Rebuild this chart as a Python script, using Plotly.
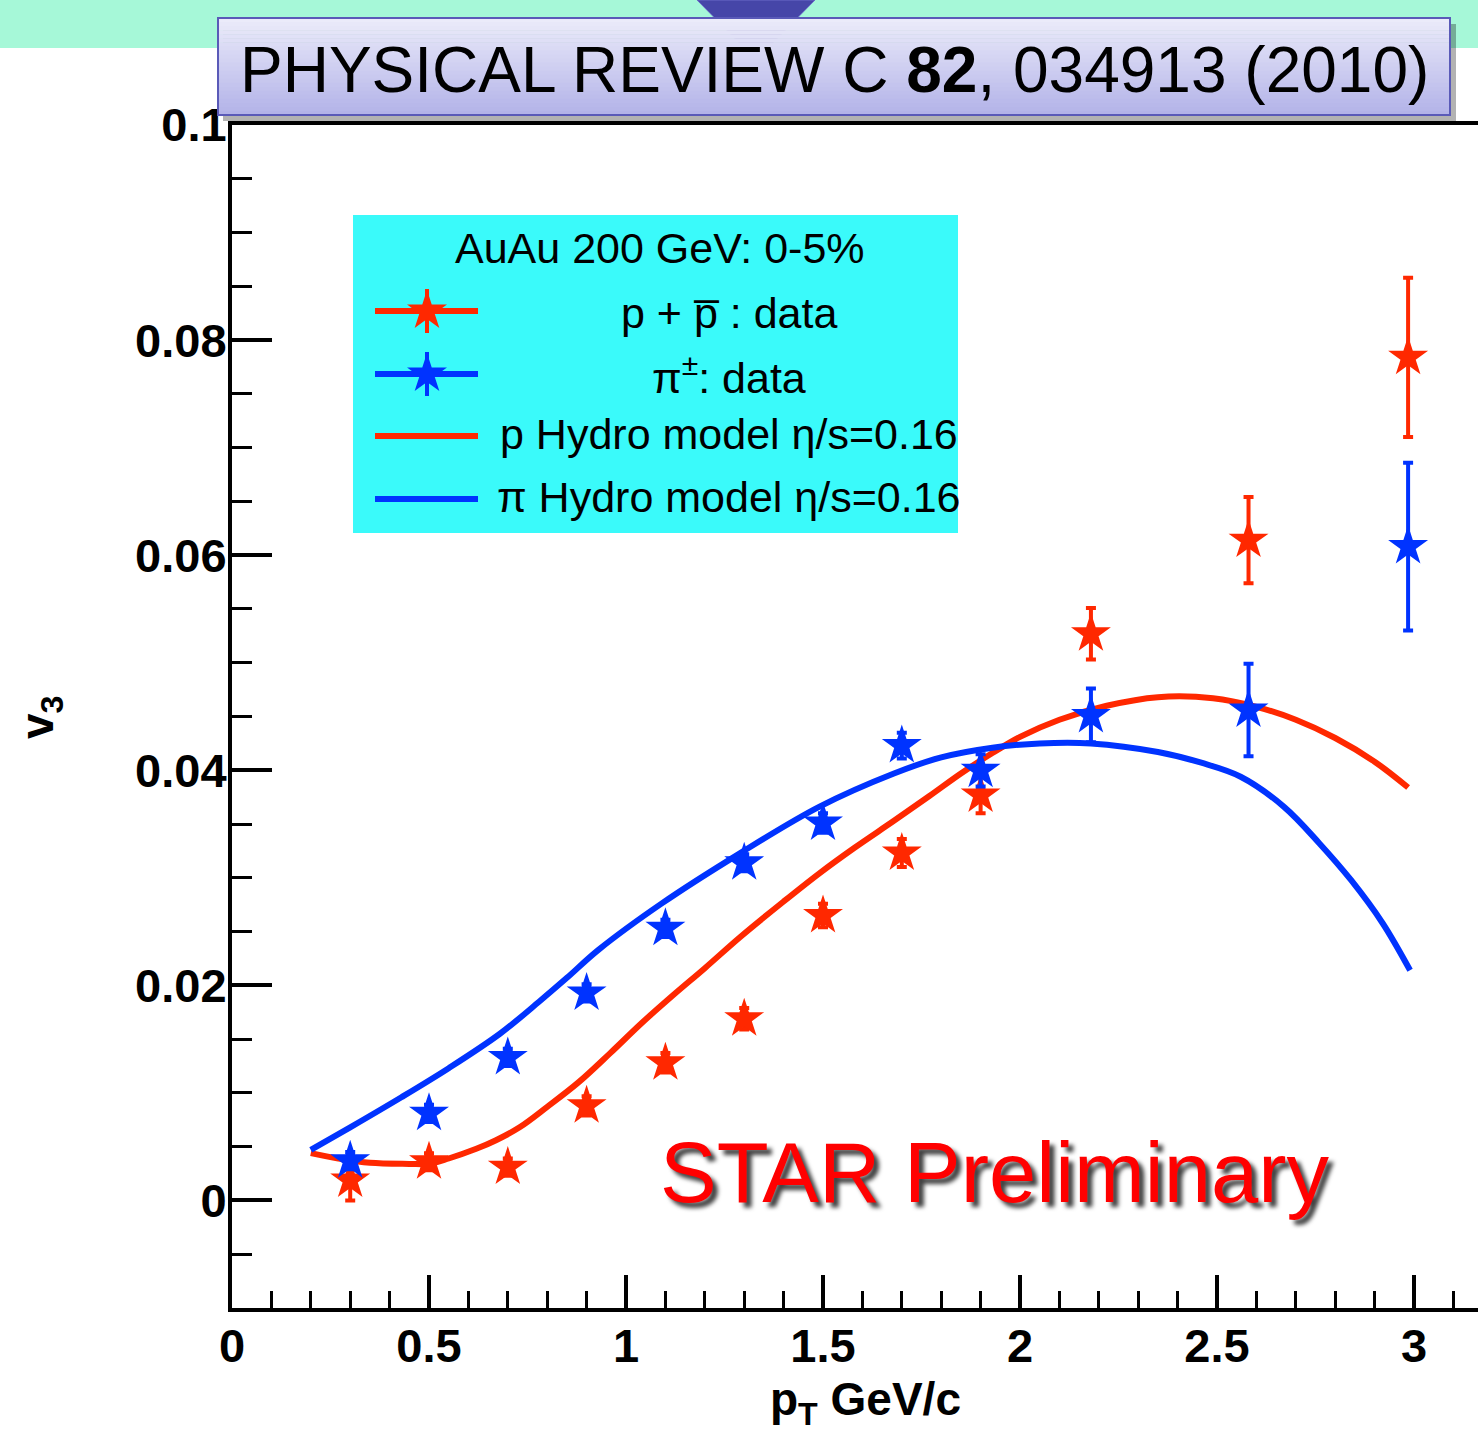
import plotly.graph_objects as go

# ---------------- data ----------------
pt_data = [0.3, 0.5, 0.7, 0.9, 1.1, 1.3, 1.5, 1.7, 1.9, 2.18, 2.58, 2.985]
v3_proton = [0.0019, 0.0036, 0.0031, 0.0088, 0.0128, 0.0169, 0.0265, 0.0323, 0.0377, 0.0527, 0.0614, 0.0784]
err_proton = [0.0019, 0.0008, 0.0008, 0.0009, 0.0009, 0.0010, 0.0011, 0.0013, 0.0017, 0.0024, 0.0040, 0.0074]
v3_pion = [0.0037, 0.0081, 0.0133, 0.0193, 0.0253, 0.0314, 0.0351, 0.0423, 0.0400, 0.0451, 0.0456, 0.0608]
err_pion = [0.0008, 0.0008, 0.0008, 0.0008, 0.0008, 0.0008, 0.0009, 0.0012, 0.0015, 0.0025, 0.0043, 0.0078]

pt_hydro_p = [0.20, 0.27, 0.35, 0.45, 0.50, 0.55, 0.62, 0.67, 0.73, 0.80, 0.88, 0.96, 1.04, 1.12,
              1.20, 1.29, 1.40, 1.49, 1.58, 1.68, 1.77, 1.85, 1.93, 2.00, 2.10, 2.22, 2.35, 2.49,
              2.60, 2.70, 2.80, 2.90, 2.985]
v3_hydro_p = [0.0044, 0.0039, 0.0035, 0.0034, 0.0034, 0.0039, 0.0048, 0.0056, 0.0068, 0.0087, 0.0110,
              0.0137, 0.0165, 0.0191, 0.0216, 0.0245, 0.0278, 0.0304, 0.0328, 0.0353, 0.0376, 0.0397,
              0.0416, 0.0431, 0.0447, 0.0460, 0.0468, 0.0467, 0.0459, 0.0447, 0.0430, 0.0408, 0.0384]

pt_hydro_pi = [0.20, 0.30, 0.43, 0.55, 0.68, 0.78, 0.85, 0.93, 1.09, 1.29, 1.49, 1.68, 1.80, 1.93,
               2.05, 2.18, 2.35, 2.46, 2.56, 2.67, 2.76, 2.84, 2.92, 2.99]
v3_hydro_pi = [0.0047, 0.0068, 0.0096, 0.0123, 0.0155, 0.0185, 0.0207, 0.0233, 0.0276, 0.0323, 0.0366,
               0.0397, 0.0412, 0.0421, 0.0425, 0.0425, 0.0417, 0.0407, 0.0394, 0.0366, 0.0332, 0.0298,
               0.0258, 0.0214]

x_range = [0, 3.1624]
y_range = [-0.01, 0.1]

legend_title = "AuAu 200 GeV: 0-5%"
legend_labels = ["p + p\u0305 : data", "\u03c0<sup>\u00b1</sup>: data",
                 "p Hydro model \u03b7/s=0.16", "\u03c0 Hydro model \u03b7/s=0.16"]

# ---------------- styling ----------------
RED = "#ff2800"
BLUE = "#0033ff"
SANS = "Liberation Sans, Arial, sans-serif"
STAR_SIZE = 30

W, H = 1478, 1442
L, T, B = 232, 125, 134
PW, PH = W - L, H - T - B


def px(x):
    return (x - L) / PW


def py(y):
    return (H - B - y) / PH


fig = go.Figure()

fig.add_trace(go.Scatter(x=pt_hydro_p, y=v3_hydro_p, mode="lines", line=dict(color=RED, width=6, shape="spline"),
                         showlegend=False))
fig.add_trace(go.Scatter(x=pt_hydro_pi, y=v3_hydro_pi, mode="lines", line=dict(color=BLUE, width=6, shape="spline"),
                         showlegend=False))
fig.add_trace(go.Scatter(x=pt_data, y=v3_proton, mode="markers",
                         marker=dict(symbol="star", size=STAR_SIZE, color=RED, line=dict(width=0)),
                         error_y=dict(type="data", array=err_proton, color=RED, thickness=4, width=5),
                         showlegend=False))
fig.add_trace(go.Scatter(x=pt_data, y=v3_pion, mode="markers",
                         marker=dict(symbol="star", size=STAR_SIZE, color=BLUE, line=dict(width=0)),
                         error_y=dict(type="data", array=err_pion, color=BLUE, thickness=4, width=5),
                         showlegend=False))

# legend sample markers (pixel-coordinate overlay axes)
for col, yy in [(RED, 311), (BLUE, 374)]:
    fig.add_trace(go.Scatter(x=[427], y=[yy], xaxis="x2", yaxis="y2", mode="markers",
                             marker=dict(symbol="star", size=STAR_SIZE, color=col, line=dict(width=0)),
                             error_y=dict(type="data", array=[22], color=col, thickness=4, width=0),
                             showlegend=False, hoverinfo="skip"))

shapes = []
# top mint band
shapes.append(dict(type="rect", xref="paper", yref="paper", x0=px(0), x1=px(W), y0=py(48), y1=py(0),
                   fillcolor="#a6f8d8", line=dict(width=0), layer="above"))
# blue arrow
shapes.append(dict(type="path", xref="paper", yref="paper",
                   path=f"M {px(697)},{py(0)} L {px(815)},{py(0)} L {px(756)},{py(60)} Z",
                   fillcolor="#4646a8", line=dict(color="#6a6ac8", width=1), layer="above"))
# title box shadow
shapes.append(dict(type="rect", xref="paper", yref="paper", x0=px(223), x1=px(1456), y0=py(121), y1=py(24),
                   fillcolor="rgba(0,0,0,0.30)", line=dict(width=0), layer="above"))
# title box gradient
n = 24
top_c = (236, 236, 250)
bot_c = (178, 178, 232)
y_top, y_bot = 18, 115
for i in range(n):
    f = (i + 0.5) / n
    c = tuple(int(round(top_c[k] + (bot_c[k] - top_c[k]) * f)) for k in range(3))
    ya = y_top + (y_bot - y_top) * i / n
    yb = y_top + (y_bot - y_top) * (i + 1) / n + 0.6
    shapes.append(dict(type="rect", xref="paper", yref="paper", x0=px(218), x1=px(1450), y0=py(yb), y1=py(ya),
                       fillcolor=f"rgb{c}", line=dict(width=0), layer="above"))
shapes.append(dict(type="rect", xref="paper", yref="paper", x0=px(218), x1=px(1450), y0=py(115), y1=py(18),
                   fillcolor="rgba(0,0,0,0)", line=dict(color="#5a5ab8", width=2), layer="above"))
# legend box
shapes.append(dict(type="rect", xref="paper", yref="paper", x0=px(353), x1=px(958), y0=py(533), y1=py(215),
                   fillcolor="#3afafa", line=dict(width=0), layer="below"))
# legend line samples
for col, yy in [(RED, 311), (BLUE, 374), (RED, 436), (BLUE, 499)]:
    shapes.append(dict(type="line", xref="paper", yref="paper", x0=px(375), x1=px(478), y0=py(yy), y1=py(yy),
                       line=dict(color=col, width=6), layer="above"))

annotations = []
annotations.append(dict(xref="paper", yref="paper", x=px(834), y=py(70), showarrow=False,
                        text="PHYSICAL REVIEW C <b>82</b>, 034913 (2010)",
                        font=dict(family=SANS, size=64, color="black"), xanchor="center", yanchor="middle"))
annotations.append(dict(xref="paper", yref="paper", x=px(660), y=py(248), showarrow=False,
                        text=legend_title, font=dict(family=SANS, size=43, color="black"),
                        xanchor="center", yanchor="middle"))
for lab, yy in zip(legend_labels, [313, 375, 434, 497]):
    annotations.append(dict(xref="paper", yref="paper", x=px(729), y=py(yy), showarrow=False,
                            text=lab, font=dict(family=SANS, size=43, color="black"),
                            xanchor="center", yanchor="middle"))
annotations.append(dict(xref="paper", yref="paper", x=px(995), y=py(1172), showarrow=False,
                        text="STAR Preliminary",
                        font=dict(family=SANS, size=85, color="#ff0000", shadow="5px 5px 4px rgba(0,0,0,0.75)"),
                        xanchor="center", yanchor="middle"))
annotations.append(dict(xref="paper", yref="paper", x=px(865), y=py(1402), showarrow=False,
                        text="p<sub>T</sub> GeV/c",
                        font=dict(family=SANS, size=46, color="black", weight="bold"),
                        xanchor="center", yanchor="middle"))
annotations.append(dict(xref="paper", yref="paper", x=px(40), y=py(717), showarrow=False,
                        text="v<sub>3</sub>", textangle=-90,
                        font=dict(family=SANS, size=46, color="black", weight="bold"),
                        xanchor="center", yanchor="middle"))

tickfont = dict(family=SANS, size=47, color="black", weight="bold")

fig.update_layout(
    width=W, height=H,
    margin=dict(l=L, r=0, t=T, b=B, pad=0),
    paper_bgcolor="white",
    plot_bgcolor="rgba(0,0,0,0)",
    showlegend=False,
    xaxis=dict(range=x_range, tick0=0, dtick=0.5, ticks="inside", ticklen=33, tickwidth=4, tickcolor="black",
               showline=True, linewidth=4, linecolor="black", mirror=True, showgrid=False, zeroline=False,
               tickfont=tickfont, ticklabelstandoff=-6,
               minor=dict(dtick=0.1, ticks="inside", ticklen=17, tickwidth=3, tickcolor="black", showgrid=False)),
    yaxis=dict(range=y_range, tick0=0, dtick=0.02, ticks="inside", ticklen=40, tickwidth=4, tickcolor="black",
               showline=True, linewidth=4, linecolor="black", mirror=False, showgrid=False, zeroline=False,
               tickfont=tickfont, ticklabelstandoff=-8,
               minor=dict(dtick=0.005, ticks="inside", ticklen=20, tickwidth=3, tickcolor="black", showgrid=False)),
    xaxis2=dict(overlaying="x", range=[L, W], visible=False),
    yaxis2=dict(overlaying="y", range=[H - B, T], visible=False),
    shapes=shapes,
    annotations=annotations,
)

fig.write_html("out.html")
